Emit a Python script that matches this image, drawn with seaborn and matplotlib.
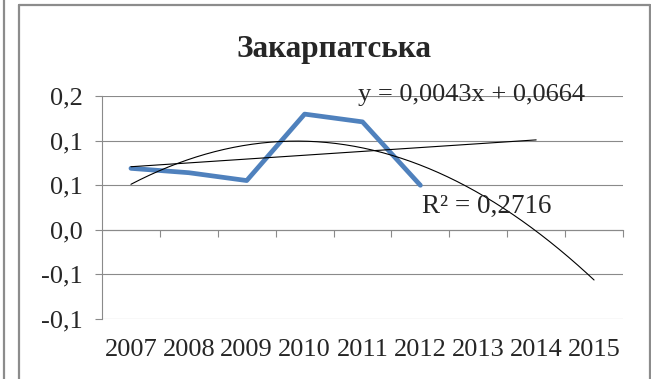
import numpy as np
import pandas as pd
import matplotlib
matplotlib.use("Agg")
import matplotlib.pyplot as plt
from matplotlib.lines import Line2D
import seaborn as sns

# Series values by year
years = [2007, 2008, 2009, 2010, 2011, 2012, 2013, 2014, 2015]
values = [0.0689, 0.064, 0.0552, 0.1297, 0.121, 0.0499]

# Trend line equations
linear_slope = 0.0043
linear_intercept = 0.0664
linear_label = "y = 0,0043x + 0,0664"
poly_r2_label = "R² = 0,2716"
linear_end = 8   # forecast two periods forward
poly_end = 9     # forecast three periods forward

# Value axis
yticks = [-0.1, -0.05, 0.0, 0.05, 0.1, 0.15]
ytick_labels = ["-0,1", "-0,1", "0,0", "0,1", "0,1", "0,2"]
title = "Закарпатська"

sns.set_theme(style="white")
plt.rcParams["font.family"] = ["Liberation Serif", "DejaVu Serif"]

W, H = 651, 379
fig = plt.figure(figsize=(W / 100, H / 100), dpi=100)
fig.patch.set_facecolor("white")

def fx(px):
    return px / W

def fy(py):
    return 1 - py / H

ax = fig.add_axes([fx(102), fy(319), fx(623) - fx(102), fy(96) - fy(319)])
ax.set_facecolor("white")

pos = np.arange(1, len(years) + 1)
df = pd.DataFrame({"x": pos[: len(values)], "y": values})

grid_col = "#8a8a8a"
ax.set_ylim(yticks[0], yticks[-1])
ax.set_xlim(0.5, len(years) + 0.5)
ax.set_yticks(yticks)
ax.set_yticklabels(ytick_labels)
ax.yaxis.grid(True, color=grid_col, linewidth=0.8)
ax.set_axisbelow(True)
for s in ["top", "right", "bottom"]:
    ax.spines[s].set_visible(False)
ax.spines["left"].set_color(grid_col)
ax.spines["left"].set_linewidth(0.8)
ax.tick_params(axis="y", direction="out", length=5, width=0.8, color=grid_col,
               labelsize=19, pad=9, left=True)
ax.set_xticks(pos)
ax.set_xticklabels([str(y) for y in years])
ax.tick_params(axis="x", length=0, labelsize=19, pad=14.5)

# Category axis crossing at zero with tick marks between categories
zero_frac = (0 - yticks[0]) / (yticks[-1] - yticks[0])
sec = ax.secondary_xaxis(zero_frac)
sec.set_xticks(np.arange(1.5, len(years) + 0.6, 1.0))
sec.set_xticklabels([])
sec.tick_params(axis="x", direction="out", length=5, width=0.8, color=grid_col)
sec.spines["bottom"].set_color(grid_col)
sec.spines["bottom"].set_linewidth(0.8)

# Data series
sns.lineplot(data=df, x="x", y="y", ax=ax, color="#4F81BD", linewidth=3.4,
             legend=False, zorder=3)

# Linear trend
xl = np.linspace(1, linear_end, 50)
sns.lineplot(x=xl, y=linear_slope * xl + linear_intercept, ax=ax,
             color="black", linewidth=0.8, legend=False, zorder=4)

# Second-order polynomial trend fitted to the series
coef = np.polyfit(df["x"], df["y"], 2)
xp = np.linspace(1, poly_end, 200)
sns.lineplot(x=xp, y=np.polyval(coef, xp), ax=ax,
             color="black", linewidth=0.8, legend=False, zorder=4)
ax.set_xlabel("")
ax.set_ylabel("")

fig.text(fx(358), fy(100.5), linear_label, fontsize=19, ha="left", va="baseline", zorder=5)
fig.text(fx(422), fy(213), poly_r2_label, fontsize=19.5, ha="left", va="baseline", zorder=5)
fig.text(fx(334), fy(56.5), title, fontsize=22.5, fontweight="bold", ha="center", va="baseline")

# Chart frame
frame_col = "#8c8c8c"
for (x0, y0, x1, y1) in [(19, 5, 19, 379), (19, 5, 650, 5), (650, 5, 650, 379), (3.5, 0, 3.5, 379)]:
    fig.add_artist(Line2D([fx(x0), fx(x1)], [fy(y0), fy(y1)], color=frame_col,
                          linewidth=1.6, transform=fig.transFigure))

fig.savefig("out.png", dpi=100)
